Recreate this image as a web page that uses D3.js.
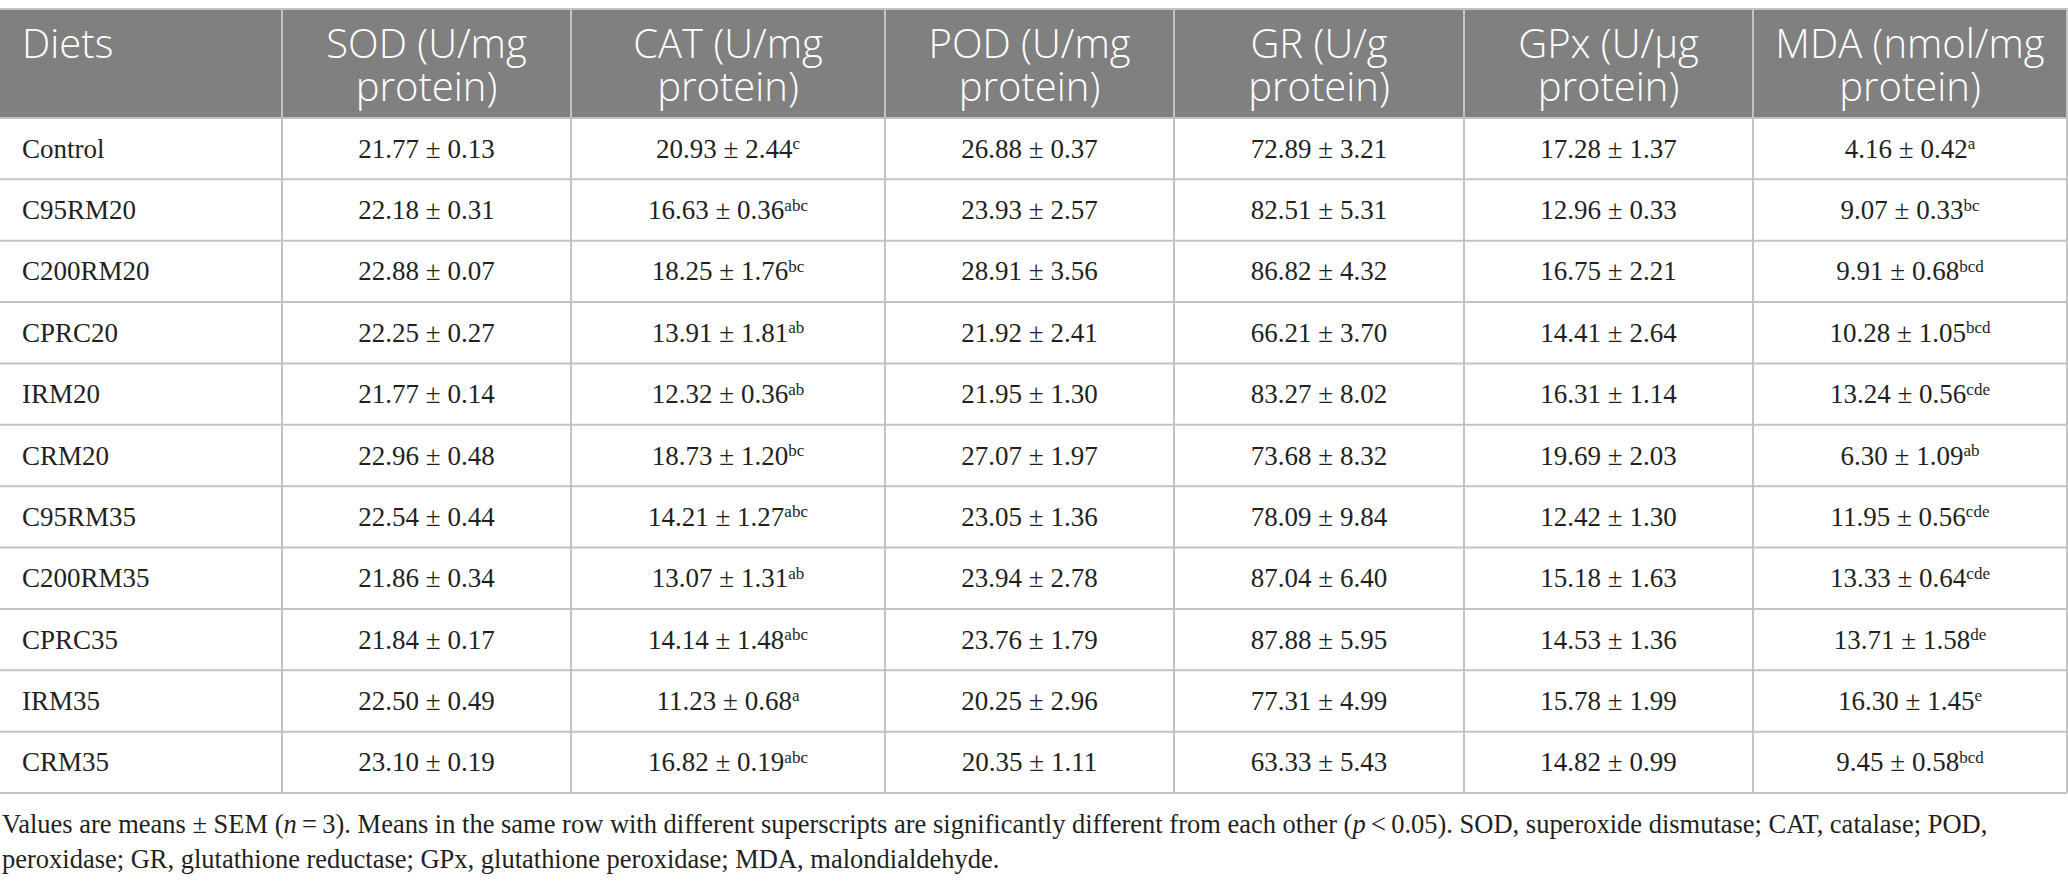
<!DOCTYPE html>
<html>
<head>
<meta charset="utf-8">
<script src="https://cdn.jsdelivr.net/npm/d3@7"></script>
<style>
  body { margin: 0; background: #fff; }
  svg { display: block; }
</style>
</head>
<body>
<svg width="2068" height="888"></svg>
<script>
// table data
var diets = ["Control", "C95RM20", "C200RM20", "CPRC20", "IRM20", "CRM20", "C95RM35", "C200RM35", "CPRC35", "IRM35", "CRM35"];
var headers = [["Diets"], ["SOD (U/mg", "protein)"], ["CAT (U/mg", "protein)"], ["POD (U/mg", "protein)"],
               ["GR (U/g", "protein)"], ["GPx (U/\u03bcg", "protein)"], ["MDA (nmol/mg", "protein)"]];

var sodMean = [21.77, 22.18, 22.88, 22.25, 21.77, 22.96, 22.54, 21.86, 21.84, 22.50, 23.10];
var sodSem  = [0.13, 0.31, 0.07, 0.27, 0.14, 0.48, 0.44, 0.34, 0.17, 0.49, 0.19];
var catMean = [20.93, 16.63, 18.25, 13.91, 12.32, 18.73, 14.21, 13.07, 14.14, 11.23, 16.82];
var catSem  = [2.44, 0.36, 1.76, 1.81, 0.36, 1.20, 1.27, 1.31, 1.48, 0.68, 0.19];
var catSup  = ["c", "abc", "bc", "ab", "ab", "bc", "abc", "ab", "abc", "a", "abc"];
var podMean = [26.88, 23.93, 28.91, 21.92, 21.95, 27.07, 23.05, 23.94, 23.76, 20.25, 20.35];
var podSem  = [0.37, 2.57, 3.56, 2.41, 1.30, 1.97, 1.36, 2.78, 1.79, 2.96, 1.11];
var grMean  = [72.89, 82.51, 86.82, 66.21, 83.27, 73.68, 78.09, 87.04, 87.88, 77.31, 63.33];
var grSem   = [3.21, 5.31, 4.32, 3.70, 8.02, 8.32, 9.84, 6.40, 5.95, 4.99, 5.43];
var gpxMean = [17.28, 12.96, 16.75, 14.41, 16.31, 19.69, 12.42, 15.18, 14.53, 15.78, 14.82];
var gpxSem  = [1.37, 0.33, 2.21, 2.64, 1.14, 2.03, 1.30, 1.63, 1.36, 1.99, 0.99];
var mdaMean = [4.16, 9.07, 9.91, 10.28, 13.24, 6.30, 11.95, 13.33, 13.71, 16.30, 9.45];
var mdaSem  = [0.42, 0.33, 0.68, 1.05, 0.56, 1.09, 0.56, 0.64, 1.58, 1.45, 0.58];
var mdaSup  = ["a", "bc", "bcd", "bcd", "cde", "ab", "cde", "cde", "de", "e", "bcd"];

var noSup = diets.map(function() { return ""; });
var columns = [
    {mean: sodMean, sem: sodSem, sup: noSup},
    {mean: catMean, sem: catSem, sup: catSup},
    {mean: podMean, sem: podSem, sup: noSup},
    {mean: grMean,  sem: grSem,  sup: noSup},
    {mean: gpxMean, sem: gpxSem, sup: noSup},
    {mean: mdaMean, sem: mdaSem, sup: mdaSup}
];

// layout
var colEdges = [0, 282, 571, 885, 1174, 1464, 1753, 2067];
var tableTop = 9, headBottom = 118, tableBottom = 793;
var serif = "'Liberation Serif', 'Times New Roman', serif";
var sans = "'Open Sans', 'Noto Sans', sans-serif";
var fmt = d3.format(".2f");

var svg = d3.select("svg");

var colIdx = d3.range(headers.length);
var xLeft = d3.scaleOrdinal().domain(colIdx).range(colEdges.slice(0, -1));
var xRight = d3.scaleOrdinal().domain(colIdx).range(colEdges.slice(1));
var y = d3.scaleBand().domain(diets).range([headBottom, tableBottom]);

///////////////////// HEADER ////////////////////
svg.append("rect")
    .attr("x", 0).attr("y", tableTop)
    .attr("width", colEdges[colEdges.length - 1]).attr("height", headBottom - tableTop)
    .attr("fill", "#808080");

var head = svg.append("g").attr("class", "head");
headers.forEach(function(lines, i) {
    var x = i === 0 ? 22 : (xLeft(i) + xRight(i)) / 2;
    // one text per line, so the two header lines sit tight like the reference
    lines.forEach(function(l, k) {
        head.append("text")
            .attr("fill", "#fff")
            .style("font-family", sans)
            .style("font-weight", "300")
            .style("font-size", "40px")
            .attr("text-anchor", i === 0 ? "start" : "middle")
            .attr("x", x).attr("y", 58 + k * 43)
            .text(l);
    });
});

///////////////////// GRID ////////////////////
var grid = svg.append("g").attr("stroke", "#c3c3c3").attr("stroke-width", 2);
grid.append("line").attr("x1", 0).attr("x2", 2068).attr("y1", tableTop).attr("y2", tableTop);
grid.selectAll(".hline")
    .data(diets)
    .enter().append("line")
    .attr("x1", 0).attr("x2", 2067)
    .attr("y1", function(d) { return y(d); })
    .attr("y2", function(d) { return y(d); });
grid.append("line").attr("x1", 0).attr("x2", 2067).attr("y1", tableBottom).attr("y2", tableBottom);
grid.selectAll(".vline")
    .data(colIdx.slice(1).concat([headers.length]))
    .enter().append("line")
    .attr("x1", function(i) { return i < headers.length ? xLeft(i) : xRight(i - 1); })
    .attr("x2", function(i) { return i < headers.length ? xLeft(i) : xRight(i - 1); })
    .attr("y1", tableTop).attr("y2", tableBottom);

///////////////////// BODY ////////////////////
var body = svg.append("g")
    .style("font-family", serif)
    .style("font-size", "27px")
    .attr("fill", "#231f20");

body.selectAll(".diet")
    .data(diets)
    .enter().append("text")
    .attr("x", 22)
    .attr("y", function(d) { return y(d) + y.bandwidth() / 2 + 9; })
    .text(function(d) { return d; });

columns.forEach(function(col, c) {
    var i = c + 1;
    var cx = (xLeft(i) + xRight(i)) / 2;
    diets.forEach(function(d, r) {
        var t = body.append("text")
            .attr("text-anchor", "middle")
            .attr("x", cx)
            .attr("y", y(d) + y.bandwidth() / 2 + 9);
        t.append("tspan").text(fmt(col.mean[r]) + " \u00b1 " + fmt(col.sem[r]));
        if (col.sup[r]) {
            t.append("tspan")
                .attr("dy", "-0.5em")
                .style("font-size", "17px")
                .text(col.sup[r]);
        }
    });
});

///////////////////// FOOTNOTE ////////////////////
var foot = svg.append("g")
    .style("font-family", serif)
    .attr("fill", "#231f20");

var l1 = foot.append("text").attr("x", 2).attr("y", 833);
l1.append("tspan").text("Values are means \u00b1 SEM (");
l1.append("tspan").style("font-style", "italic").text("n");
l1.append("tspan").text("\u2009=\u20093). Means in the same row with different superscripts are significantly different from each other (");
l1.append("tspan").style("font-style", "italic").text("p");
l1.append("tspan").text("\u2009<\u20090.05). SOD, superoxide dismutase; CAT, catalase; POD,");

var l2 = foot.append("text").attr("x", 2).attr("y", 868)
    .text("peroxidase; GR, glutathione reductase; GPx, glutathione peroxidase; MDA, malondialdehyde.");

// size the footnote so the first line ends where the reference does
foot.style("font-size", "28px");
var w = l1.node().getComputedTextLength();
foot.style("font-size", (28 * 1986 / w).toFixed(2) + "px");
</script>
</body>
</html>
